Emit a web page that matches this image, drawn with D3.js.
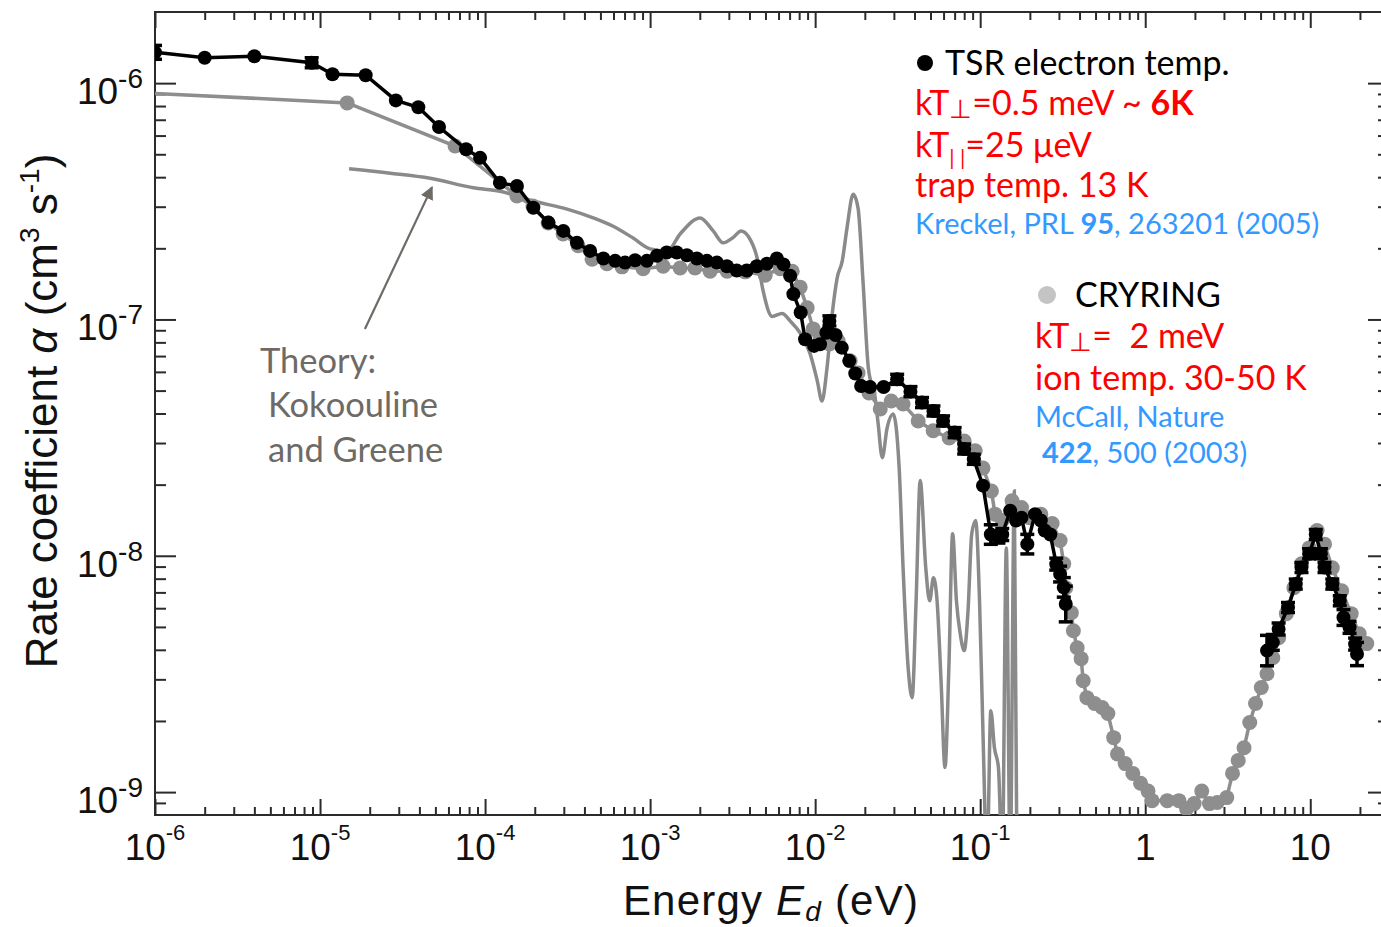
<!DOCTYPE html>
<html><head><meta charset="utf-8">
<script src="https://cdn.jsdelivr.net/npm/d3@7"></script>
<style>
html,body{margin:0;padding:0;background:#fff;}
svg{display:block;}
text{white-space:pre;}
</style></head><body>
<svg id="chart" width="1381" height="927"></svg>
<script>
// ---------------- DATA ----------------
// TSR (black) low-energy segment: energy (eV), rate (cm^3 s^-1), fractional error
const tsrE = [1e-6,2e-6,4e-6,8.9e-6,1.19e-5,1.89e-5,2.88e-5,3.94e-5,5.26e-5,7.67e-5,
  9.33e-5,1.23e-4,1.56e-4,1.96e-4,2.42e-4,2.98e-4,3.60e-4,4.33e-4,5.21e-4,6.14e-4,
  7.05e-4,8.11e-4,9.55e-4,1.10e-3,1.26e-3,1.45e-3,1.67e-3,1.92e-3,2.21e-3,2.54e-3,
  2.92e-3,3.35e-3,3.85e-3,4.43e-3,5.10e-3,5.86e-3,6.43e-3,7.05e-3,7.38e-3,8.17e-3,
  8.69e-3,9.86e-3,1.07e-2,1.17e-2,1.22e-2,1.33e-2,1.45e-2,1.61e-2,1.75e-2,1.90e-2,
  2.15e-2,2.60e-2,3.14e-2,3.78e-2,4.44e-2,5.21e-2,5.96e-2,7.00e-2,8.00e-2,9.15e-2,
  1.04e-1,1.16e-1,1.29e-1,1.36e-1,1.52e-1,1.65e-1,1.78e-1,1.93e-1,2.15e-1,2.33e-1,
  2.46e-1,2.66e-1,2.89e-1,3.05e-1,3.21e-1,3.30e-1];
const tsrRate = [1.35e-6,1.28e-6,1.30e-6,1.22e-6,1.09e-6,1.08e-6,8.45e-7,7.91e-7,6.52e-7,5.25e-7,
  4.83e-7,3.79e-7,3.67e-7,2.97e-7,2.57e-7,2.37e-7,2.11e-7,1.95e-7,1.81e-7,1.77e-7,
  1.74e-7,1.78e-7,1.77e-7,1.86e-7,1.92e-7,1.92e-7,1.87e-7,1.81e-7,1.77e-7,1.74e-7,
  1.68e-7,1.61e-7,1.61e-7,1.68e-7,1.72e-7,1.81e-7,1.71e-7,1.53e-7,1.28e-7,1.07e-7,
  8.25e-8,7.73e-8,7.85e-8,8.79e-8,9.86e-8,8.60e-8,7.60e-8,6.68e-8,5.91e-8,5.23e-8,
  5.18e-8,5.18e-8,5.58e-8,4.95e-8,4.45e-8,4.10e-8,3.72e-8,3.32e-8,2.83e-8,2.56e-8,
  1.98e-8,1.23e-8,1.20e-8,1.23e-8,1.55e-8,1.41e-8,1.45e-8,1.12e-8,1.50e-8,1.41e-8,
  1.28e-8,1.23e-8,9.22e-9,8.37e-9,7.35e-9,6.25e-9];
const tsrErr = [0.07,0,0,0.05,0,0,0,0,0,0,
  0,0,0,0,0,0,0,0,0,0,
  0,0,0,0,0,0,0,0,0,0,
  0,0,0,0,0,0,0,0,0,0,
  0,0,0,0,0.05,0,0,0,0,0,
  0,0,0.05,0.05,0.05,0.05,0.05,0.05,0.05,0.05,
  0,0.1,0.06,0.06,0,0,0,0.1,0,0,
  0,0,0.06,0.08,0.1,0.19];
// TSR (black) high-energy segment
const tsrHighE = [5.47,5.93,6.43,7.33,8.17,8.85,9.84,10.8,11.6,12.2,13.6,15.1,15.9,17.3,18.7,19.2];
const tsrHighRate = [3.97e-9,4.30e-9,4.90e-9,6.04e-9,7.59e-9,8.92e-9,1.02e-8,1.23e-8,1.02e-8,8.92e-9,
  7.59e-9,6.45e-9,5.48e-9,4.98e-9,4.23e-9,3.84e-9];
const tsrHighErr = [0.16,0.08,0.06,0.05,0.05,0.05,0.05,0.05,0.05,0.05,0.05,0.05,0.08,0.06,0.06,0.12];

// CRYRING (grey)
const cryExtrapE = [1e-6, 1.46e-5];
const cryExtrapRate = [9.05e-7, 8.25e-7];
const cryE = [1.46e-5,6.58e-5,1.56e-4,1.95e-4,2.41e-4,2.97e-4,3.66e-4,4.45e-4,5.48e-4,6.76e-4,
  9.07e-4,1.20e-3,1.52e-3,1.87e-3,2.31e-3,2.93e-3,3.77e-3,4.98e-3,6.14e-3,7.26e-3,
  8.11e-3,8.95e-3,9.73e-3,1.07e-2,1.22e-2,1.38e-2,1.63e-2,1.82e-2,2.12e-2,2.48e-2,
  2.89e-2,3.41e-2,4.21e-2,5.19e-2,6.49e-2,8.00e-2,9.33e-2,1.04e-1,1.17e-1,1.23e-1,
  1.36e-1,1.56e-1,1.78e-1,1.98e-1,2.33e-1,2.73e-1,3.05e-1,3.21e-1,3.30e-1,3.57e-1,
  3.67e-1,3.87e-1,4.09e-1,4.21e-1,4.43e-1,4.93e-1,5.48e-1,5.94e-1,6.44e-1,6.79e-1,
  7.56e-1,8.41e-1,9.37e-1,1.04,1.10,1.36,1.60,1.78,1.98,2.20,
  2.45,2.73,3.12,3.38,3.66,3.97,4.30,4.66,5.05,5.47,
  5.93,6.43,7.16,7.96,8.85,9.86,11.0,12.2,13.6,15.5,
  17.7,19.8,22.0];
const cryRate = [8.25e-7,5.42e-7,3.33e-7,3.02e-7,2.56e-7,2.30e-7,2.05e-7,1.80e-7,1.72e-7,1.67e-7,
  1.64e-7,1.68e-7,1.65e-7,1.65e-7,1.60e-7,1.60e-7,1.59e-7,1.54e-7,1.64e-7,1.60e-7,
  1.37e-7,1.12e-7,9.12e-8,8.43e-8,7.87e-8,8.11e-8,6.68e-8,5.94e-8,4.89e-8,4.18e-8,
  4.52e-8,4.39e-8,3.72e-8,3.38e-8,3.15e-8,3.06e-8,2.78e-8,2.35e-8,1.88e-8,1.50e-8,
  1.41e-8,1.71e-8,1.60e-8,1.45e-8,1.50e-8,1.37e-8,1.16e-8,9.25e-9,7.32e-9,5.74e-9,
  4.82e-9,4.08e-9,3.67e-9,2.96e-9,2.51e-9,2.37e-9,2.28e-9,2.15e-9,1.70e-9,1.45e-9,
  1.32e-9,1.20e-9,1.09e-9,1.01e-9,9.20e-10,9.20e-10,9.20e-10,8.51e-10,8.94e-10,1.01e-9,
  8.94e-10,9.03e-10,9.48e-10,1.20e-9,1.36e-9,1.54e-9,1.97e-9,2.37e-9,2.77e-9,3.17e-9,
  3.70e-9,4.50e-9,5.69e-9,7.32e-9,9.25e-9,1.08e-8,1.28e-8,1.12e-8,8.89e-9,7.11e-9,
  5.69e-9,4.68e-9,4.25e-9];

// Theory (Kokoouline and Greene)
const theoryE = [1.50e-5,2.66e-5,4.64e-5,8.46e-5,1.23e-4,1.95e-4,3.14e-4,4.52e-4,5.97e-4,7.89e-4,
  1.00e-3,1.27e-3,1.52e-3,2.01e-3,2.41e-3,2.77e-3,3.18e-3,3.56e-3,3.93e-3,4.45e-3,
  4.84e-3,5.49e-3,6.31e-3,7.05e-3,8.11e-3,9.33e-3,1.03e-2,1.10e-2,1.18e-2,1.27e-2,
  1.36e-2,1.46e-2,1.56e-2,1.70e-2,1.82e-2,1.95e-2,2.10e-2,2.31e-2,2.41e-2,2.55e-2,
  2.73e-2,2.97e-2,3.23e-2,3.41e-2,3.66e-2,3.87e-2,4.09e-2,4.33e-2,4.68e-2,4.94e-2,
  5.21e-2,5.48e-2,5.80e-2,6.12e-2,6.46e-2,6.81e-2,7.18e-2,7.57e-2,8.00e-2,8.44e-2,
  8.89e-2,9.39e-2,9.91e-2,1.04e-1,1.10e-1,1.16e-1,1.22e-1,1.29e-1,1.36e-1,1.44e-1,
  1.52e-1,1.61e-1,1.67e-1];
const theoryRate = [4.34e-7,4.16e-7,3.96e-7,3.61e-7,3.49e-7,3.17e-7,2.93e-7,2.69e-7,2.48e-7,2.21e-7,
  1.99e-7,1.95e-7,2.30e-7,2.69e-7,2.37e-7,2.11e-7,2.22e-7,2.37e-7,2.25e-7,1.82e-7,
  1.32e-7,1.03e-7,1.06e-7,9.86e-8,8.77e-8,7.15e-8,5.50e-8,4.52e-8,6.24e-8,1.06e-7,
  1.50e-7,1.77e-7,2.44e-7,3.39e-7,2.96e-7,1.45e-7,6.24e-8,4.66e-8,3.61e-8,2.60e-8,
  3.48e-8,3.98e-8,2.35e-8,8.89e-9,3.36e-9,2.51e-9,6.45e-9,2.08e-8,8.89e-9,6.45e-9,
  8.07e-9,6.45e-9,2.90e-9,1.27e-9,3.36e-9,1.24e-8,6.45e-9,4.68e-9,3.97e-9,5.85e-9,
  1.24e-8,1.41e-8,6.45e-9,1.77e-9,5e-10,2.21e-9,1.54e-9,1.27e-9,5e-10,1.08e-8,
  5e-10,1.88e-8,5e-10];

// Annotation arrow (data coordinates): tail -> tip
const arrowE = [1.87e-5, 4.77e-5];
const arrowRate = [9.12e-8, 3.63e-7];

// Axes
const xDomain = [1e-6, 30];
const yDomain = [8e-10, 2e-6];
const xMajor = [1e-6,1e-5,1e-4,1e-3,1e-2,1e-1,1,10];
const xMajorBase = ["10","10","10","10","10","10","1","10"];
const xMajorExp = ["-6","-5","-4","-3","-2","-1","",""];
const yMajor = [1e-9,1e-8,1e-7,1e-6];
const yMajorExp = ["-9","-8","-7","-6"];

// ---------------- CHART ----------------
const svg = d3.select("#chart");
const L = 155, T = 12, B = 815, R = 1389;
const x = d3.scaleLog().domain(xDomain).range([L, R]);
const y = d3.scaleLog().domain(yDomain).range([B, T]);

const xMinor = [];
for (let e = -6; e <= 1; e++) for (let k = 2; k <= 9; k++) {
  const v = k * Math.pow(10, e);
  if (v < xDomain[1]) xMinor.push(v);
}
const yMinor = [];
for (let e = -10; e <= -6; e++) for (let k = 2; k <= 9; k++) {
  const v = k * Math.pow(10, e);
  if (v > 8.5e-10 && v < 1.9e-6) yMinor.push(v);
}

const axisColor = "#2b2b2b";
function styleAxis(g) {
  g.select(".domain").remove();
  g.selectAll(".tick line").attr("stroke", axisColor).attr("stroke-width", 2);
  g.selectAll(".tick text").remove();
}
svg.append("g").attr("transform", `translate(0,${B})`)
  .call(d3.axisBottom(x).tickValues(xMinor).tickSizeInner(-8).tickSizeOuter(0).tickFormat("")).call(styleAxis);
svg.append("g").attr("transform", `translate(0,${B})`)
  .call(d3.axisBottom(x).tickValues(xMajor).tickSizeInner(-16).tickSizeOuter(0).tickFormat("")).call(styleAxis);
svg.append("g").attr("transform", `translate(0,${T})`)
  .call(d3.axisTop(x).tickValues(xMinor).tickSizeInner(-8).tickSizeOuter(0).tickFormat("")).call(styleAxis);
svg.append("g").attr("transform", `translate(0,${T})`)
  .call(d3.axisTop(x).tickValues(xMajor).tickSizeInner(-16).tickSizeOuter(0).tickFormat("")).call(styleAxis);
svg.append("g").attr("transform", `translate(${L},0)`)
  .call(d3.axisLeft(y).tickValues(yMinor).tickSizeInner(-11).tickSizeOuter(0).tickFormat("")).call(styleAxis);
svg.append("g").attr("transform", `translate(${L},0)`)
  .call(d3.axisLeft(y).tickValues(yMajor).tickSizeInner(-21).tickSizeOuter(0).tickFormat("")).call(styleAxis);
svg.append("g").attr("transform", `translate(${R},0)`)
  .call(d3.axisRight(y).tickValues(yMinor).tickSizeInner(-11).tickSizeOuter(0).tickFormat("")).call(styleAxis);
svg.append("g").attr("transform", `translate(${R},0)`)
  .call(d3.axisRight(y).tickValues(yMajor).tickSizeInner(-21).tickSizeOuter(0).tickFormat("")).call(styleAxis);

svg.append("rect").attr("x", L).attr("y", T).attr("width", R - L).attr("height", B - T)
  .attr("fill", "none").attr("stroke", axisColor).attr("stroke-width", 2);

// tick labels
const tickFont = "'Liberation Sans', Arial, Helvetica, sans-serif";
const xl = svg.append("g").attr("font-family", tickFont).attr("fill", "#111");
xMajor.forEach((v, i) => {
  const t = xl.append("text").attr("x", x(v)).attr("y", 860).attr("text-anchor", "middle").attr("font-size", 37);
  t.append("tspan").text(xMajorBase[i]);
  if (xMajorExp[i]) t.append("tspan").attr("font-size", 22).attr("dy", -20).text(xMajorExp[i]);
});
const yl = svg.append("g").attr("font-family", tickFont).attr("fill", "#111");
yMajor.forEach((v, i) => {
  const t = yl.append("text").attr("x", 143).attr("y", y(v) + 21).attr("text-anchor", "end").attr("font-size", 37);
  t.append("tspan").text("10");
  t.append("tspan").attr("font-size", 28).attr("dy", -16).text(yMajorExp[i]);
});

// axis titles
const xt = svg.append("text").attr("x", 771).attr("y", 915).attr("text-anchor", "middle")
  .attr("font-family", tickFont).attr("font-size", 42).attr("letter-spacing", 1.2).attr("fill", "#111");
xt.append("tspan").text("Energy ");
xt.append("tspan").attr("font-style", "italic").text("E");
xt.append("tspan").attr("font-style", "italic").attr("font-size", 28).attr("dy", 6).text("d");
xt.append("tspan").attr("dy", -6).text(" (eV)");

const yt = svg.append("text").attr("transform", "translate(57,411) rotate(-90)").attr("text-anchor", "middle")
  .attr("font-family", tickFont).attr("font-size", 44).attr("fill", "#111");
yt.append("tspan").text("Rate coefficient ");
yt.append("tspan").attr("font-style", "italic").text("α");
yt.append("tspan").text(" (cm");
yt.append("tspan").attr("font-size", 28).attr("dy", -18).text("3");
yt.append("tspan").attr("dy", 18).text(" s");
yt.append("tspan").attr("font-size", 28).attr("dy", -18).text("-1");
yt.append("tspan").attr("dy", 18).text(")");

// clip
svg.append("clipPath").attr("id", "clip").append("rect")
  .attr("x", L).attr("y", T).attr("width", R - L).attr("height", B - T);
const plot = svg.append("g").attr("clip-path", "url(#clip)");

const grey = "#8e8e8e";
// theory
const theory = theoryE.map((e, i) => [e, theoryRate[i]]);
plot.append("path").datum(theory)
  .attr("d", d3.line().x(d => x(d[0])).y(d => y(d[1])).curve(d3.curveMonotoneX))
  .attr("fill", "none").attr("stroke", "#8a8a8a").attr("stroke-width", 3.5);

// CRYRING
const cryExtrap = cryExtrapE.map((e, i) => [e, cryExtrapRate[i]]);
plot.append("path").datum(cryExtrap)
  .attr("d", d3.line().x(d => x(d[0])).y(d => y(d[1])))
  .attr("fill", "none").attr("stroke", grey).attr("stroke-width", 3.5);
const cry = cryE.map((e, i) => [e, cryRate[i]]);
plot.append("path").datum(cry)
  .attr("d", d3.line().x(d => x(d[0])).y(d => y(d[1])))
  .attr("fill", "none").attr("stroke", grey).attr("stroke-width", 3.5);
plot.append("g").selectAll("circle").data(cry).join("circle")
  .attr("cx", d => x(d[0])).attr("cy", d => y(d[1])).attr("r", 7.5).attr("fill", grey);

// TSR
function drawTsr(E, Rt, Er) {
  const pts = E.map((e, i) => [e, Rt[i], Er[i]]);
  plot.append("path").datum(pts)
    .attr("d", d3.line().x(d => x(d[0])).y(d => y(d[1])))
    .attr("fill", "none").attr("stroke", "#000").attr("stroke-width", 3.5);
  const eb = plot.append("g").attr("stroke", "#000").attr("stroke-width", 3.5);
  pts.filter(d => d[2] > 0).forEach(d => {
    const cx = x(d[0]), y1 = y(d[1] * (1 + d[2])), y2 = y(d[1] / (1 + d[2]));
    eb.append("line").attr("x1", cx).attr("x2", cx).attr("y1", y1).attr("y2", y2);
    eb.append("line").attr("x1", cx - 7).attr("x2", cx + 7).attr("y1", y1).attr("y2", y1);
    eb.append("line").attr("x1", cx - 7).attr("x2", cx + 7).attr("y1", y2).attr("y2", y2);
  });
  plot.append("g").selectAll("circle").data(pts).join("circle")
    .attr("cx", d => x(d[0])).attr("cy", d => y(d[1])).attr("r", 7).attr("fill", "#000");
}
drawTsr(tsrE, tsrRate, tsrErr);
drawTsr(tsrHighE, tsrHighRate, tsrHighErr);

// arrow
const annoColor = "#6e6a66";
svg.append("defs").append("marker").attr("id", "ah").attr("viewBox", "0 0 10 10")
  .attr("refX", 9).attr("refY", 5).attr("markerWidth", 6).attr("markerHeight", 6)
  .attr("markerUnits", "strokeWidth").attr("orient", "auto")
  .append("path").attr("d", "M0,0 L10,5 L0,10 z").attr("fill", annoColor);
svg.append("line")
  .attr("x1", x(arrowE[0])).attr("y1", y(arrowRate[0]))
  .attr("x2", x(arrowE[1])).attr("y2", y(arrowRate[1]))
  .attr("stroke", annoColor).attr("stroke-width", 2.2).attr("marker-end", "url(#ah)");

// annotation text
const lato = "Lato, 'Open Sans', sans-serif";
const th = svg.append("g").attr("font-family", lato).attr("font-size", 34.5).attr("fill", annoColor);
th.append("text").attr("x", 260).attr("y", 373).text("Theory:");
th.append("text").attr("x", 268).attr("y", 417).text("Kokoouline");
th.append("text").attr("x", 268).attr("y", 462).text("and Greene");

// legend
const red = "#ff0000", blue = "#3399ff";
const fsMain = 34, fsRef = 29;
const lg = svg.append("g").attr("font-family", lato);
lg.append("circle").attr("cx", 925).attr("cy", 63).attr("r", 8).attr("fill", "#000");
lg.append("text").attr("x", 945).attr("y", 75).attr("font-size", fsMain).attr("fill", "#000").text("TSR electron temp.");
let t = lg.append("text").attr("x", 915).attr("y", 115).attr("font-size", fsMain).attr("fill", red);
t.append("tspan").text("kT");
t.append("tspan").attr("font-size", 26).attr("dy", 3).text("⊥");
t.append("tspan").attr("dy", -3).text("=0.5 meV ~ ");
t.append("tspan").attr("font-weight", "bold").text("6K");
t = lg.append("text").attr("x", 915).attr("y", 157).attr("font-size", fsMain).attr("fill", red);
t.append("tspan").text("kT");
t.append("tspan").attr("font-size", 21).attr("dy", 8).text("| |");
t.append("tspan").attr("dy", -8).text("=25 μeV");
lg.append("text").attr("x", 915).attr("y", 197).attr("font-size", fsMain).attr("fill", red).text("trap temp. 13 K");
t = lg.append("text").attr("x", 915).attr("y", 234).attr("font-size", fsRef).attr("fill", blue);
t.append("tspan").text("Kreckel, PRL ");
t.append("tspan").attr("font-weight", "bold").text("95");
t.append("tspan").text(", 263201 (2005)");

lg.append("circle").attr("cx", 1047).attr("cy", 295).attr("r", 9).attr("fill", "#c4c4c4");
lg.append("text").attr("x", 1075).attr("y", 307).attr("font-size", fsMain).attr("fill", "#000").text("CRYRING");
t = lg.append("text").attr("x", 1035).attr("y", 348).attr("font-size", fsMain).attr("fill", red);
t.append("tspan").text("kT");
t.append("tspan").attr("font-size", 26).attr("dy", 3).text("⊥");
t.append("tspan").attr("dy", -3).text("=  2 meV");
lg.append("text").attr("x", 1035).attr("y", 390).attr("font-size", fsMain).attr("fill", red).text("ion temp. 30-50 K");
lg.append("text").attr("x", 1035).attr("y", 427).attr("font-size", fsRef).attr("fill", blue).text("McCall, Nature");
t = lg.append("text").attr("x", 1042).attr("y", 463).attr("font-size", fsRef).attr("fill", blue);
t.append("tspan").attr("font-weight", "bold").text("422");
t.append("tspan").text(", 500 (2003)");
</script>
</body></html>
